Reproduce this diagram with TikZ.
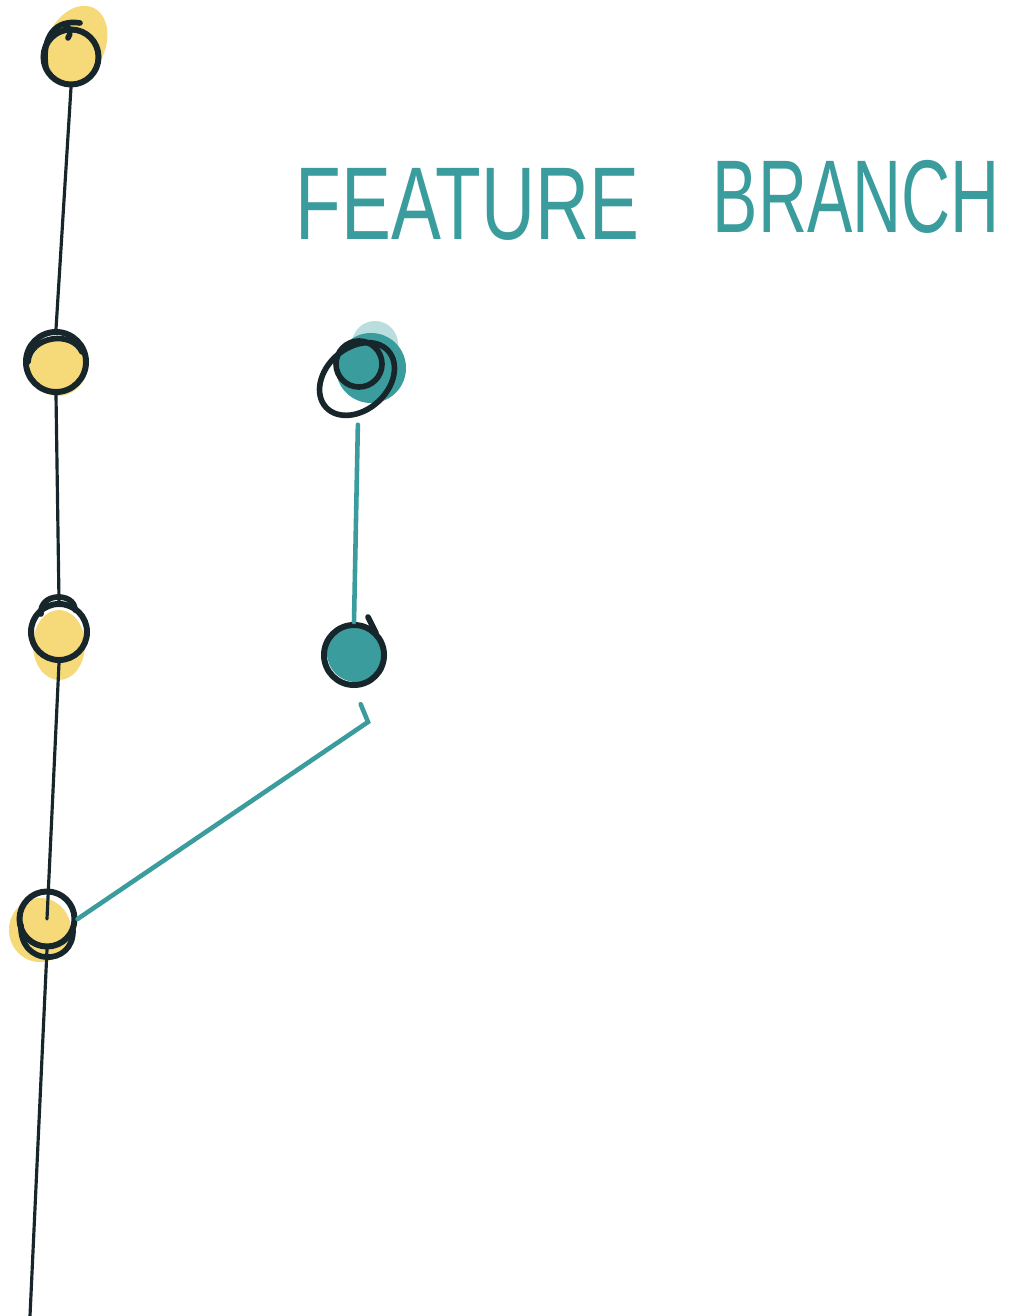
\documentclass[tikz,border=0pt]{standalone}
\usepackage{fontspec}
\usetikzlibrary{shapes.geometric}
\setmainfont{Liberation Sans}
\definecolor{ink}{HTML}{17262A}
\definecolor{sun}{HTML}{F6D978}
\definecolor{sea}{HTML}{3A9C9C}
\definecolor{seahaze}{HTML}{B9DEDD}
\begin{document}
\begin{tikzpicture}[x=0.01cm,y=-0.01cm,
  ring/.style={circle,draw=ink,line width=1.7pt,inner sep=0pt},
  loop/.style={draw=ink,line width=1.6pt,line cap=round},
  trunk/.style={draw=ink,line width=0.9pt,line cap=round},
  twig/.style={draw=sea,line width=1.3pt,line cap=round},
  label/.style={anchor=base west,text=sea,inner sep=0pt,font=\fontsize{28}{28}\selectfont}]
\useasboundingbox[fill=white] (0,0) rectangle (1011,1316);

% coloured blobs behind the commits
\fill[sun] (76,45) ellipse [x radius=29, y radius=41, rotate=-25];
\fill[sun] (58,368) circle [radius=28];
\fill[sun] (59,645) ellipse [x radius=26, y radius=35];
\fill[sun] (40,930) ellipse [x radius=31, y radius=32];
\fill[seahaze] (375,344) circle [radius=23];
\fill[sea] (371,368) circle [radius=35];
\fill[sea] (356,653) circle [radius=29];

% main line commits
\node[ring,minimum size=0.55cm] (c1) at (71,57) {};
\node[ring,minimum size=0.6cm] (c2) at (56,362) {};
\node[ring,minimum size=0.56cm] (c3) at (59,632) {};
\node[ring,minimum size=0.55cm] (c4) at (47,919) {};
% feature branch commits
\node[ring,minimum size=0.6cm] (t2) at (354,655) {};
\node[circle,inner sep=0pt,minimum size=0.74cm] (t1) at (358,380) {};
\coordinate (tail) at (30,1316);
\coordinate (fork) at (368,722);

% hand-drawn outline of the upper branch commit
\draw[loop] (357,379) ellipse [x radius=42, y radius=31, rotate=42];
\draw[loop] (359,364) circle [radius=23];

% second strokes of the hand-drawn loops
\draw[loop] (46,68) .. controls (41,36) and (56,19) .. (80,23);
\draw[loop] (64,25) .. controls (71,27) and (71,34) .. (68,38);
\draw[loop] (28,362) .. controls (30,336) and (72,330) .. (82,352);
\draw[loop] (41,614) .. controls (39,592) and (75,592) .. (75,610);
\draw[loop] (21,925) .. controls (19,967) and (74,967) .. (73,930);
\draw[loop] (368,617) -- (376,633);

% branch label
\node[label] (lab1) at (295,240) {\scalebox{0.76}[1.05]{FEATURE}};
\node[label] (lab2) at (712,233) {\scalebox{0.69}[1.05]{BRANCH}};

% connectors
\draw[trunk] (c1.south) -- (c2.north);
\draw[trunk] (c2.south) -- (c3.north);
\draw[trunk] (c3.south) -- (c4.center);
\draw[trunk] (c4.south) -- (tail);
\draw[twig,shorten <=2pt] (t1.south) -- (t2.north);
\draw[twig,shorten <=5pt] (t2.south) -- (fork) -- (c4.east);
\end{tikzpicture}
\end{document}
